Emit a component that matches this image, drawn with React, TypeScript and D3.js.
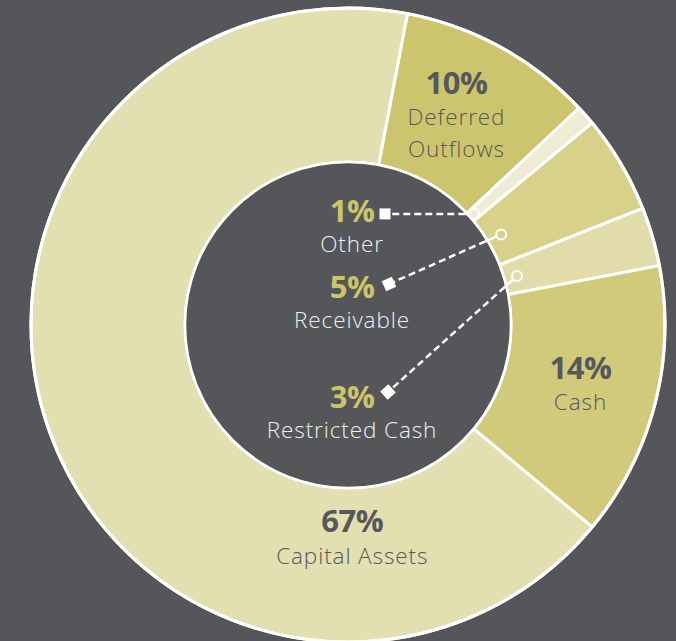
import React from "react";
import * as d3 from "d3";

// slices, clockwise from the top-right
const categories = ["Deferred Outflows", "Other", "Receivable", "Restricted Cash", "Cash", "Capital Assets"];
const values = [10, 1, 5, 3, 14, 67];
const colors = ["#cdc56e", "#efecd6", "#d8d18a", "#e1dcaa", "#d1ca7b", "#e2dfb1"];
// which slices get their label on the ring, and which get a callout inside
const ringLabels = [["Deferred", "Outflows"], null, null, null, ["Cash"], ["Capital Assets"]];
const innerLabels = [null, "Other", "Receivable", "Restricted Cash", null, null];

const W = 676;
const H = 641;
const cx = 348;
const cy = 325;
const outerR = 317;
const innerR = 163;
const startAngle = 0.03 * Math.PI * 2;

const BG = "#55565a";
const DARK = "#56585c";
const GOLD = "#cdc46a";
const LABEL_FONT = "'Open Sans', sans-serif";
const PCT_FONT = "'Open Sans', sans-serif";

// label anchors inside the hole: [x, y of percent baseline]
const innerSpots: Record<number, [number, number]> = { 1: [352, 222], 2: [352, 298], 3: [352, 408] };
// where the callout lines end (near the labels), and radius of the little ring marker
const calloutEnds: Record<number, [number, number | null]> = { 1: [385, null], 2: [389, 284], 3: [388, 392] };
const markerR: Record<number, number> = { 1: 168, 2: 178, 3: 176 };

const App: React.FC = () => {
  const pie = d3
    .pie<number>()
    .sort(null)
    .value((d) => d)
    .startAngle(startAngle)
    .endAngle(startAngle + Math.PI * 2);
  const arcs = pie(values);
  const arc = d3.arc<d3.PieArcDatum<number>>().innerRadius(innerR).outerRadius(outerR);

  const polar = (a: number, r: number): [number, number] => [Math.sin(a) * r, -Math.cos(a) * r];

  return (
    <svg
      width={W}
      height={H}
      style={{ position: "fixed", left: 0, top: 0, background: BG }}
      fontFamily={LABEL_FONT}
    >
      <rect width={W} height={H} fill={BG} />
      <g transform={`translate(${cx},${cy})`}>
        {arcs.map((a, i) => (
          <path key={categories[i]} d={arc(a)!} fill={colors[i]} stroke="#fff" strokeWidth={3} strokeLinejoin="round" />
        ))}
        <circle r={outerR} fill="none" stroke="#fff" strokeWidth={3} />
        <circle r={innerR} fill={BG} stroke="#fff" strokeWidth={2.5} />

        {arcs.map((a, i) => {
          const lines = ringLabels[i];
          if (!lines) return null;
          const mid = (a.startAngle + a.endAngle) / 2;
          // Capital Assets label sits at the bottom of the ring
          const [lx, ly] = i === 5 ? polar(Math.PI - 0.02, 213) : i === 0 ? polar(mid - 0.025, 236) : polar(mid, 240);
          const n = lines.length + 1;
          const base = (k: number) => ly + (k - (n - 1) / 2) * 31.5 + 10;
          return (
            <g key={"rl" + i} textAnchor="middle">
              <text x={lx} y={base(0)} fontFamily={PCT_FONT} fontWeight={700} fontSize={31} fill={DARK} letterSpacing={-0.5}>
                {values[i]}%
              </text>
              {lines.map((t, k) => (
                <text key={t} x={lx} y={base(k + 1)} fontSize={22.5} fontWeight={300} fill={DARK} letterSpacing={0.9}>
                  {t}
                </text>
              ))}
            </g>
          );
        })}

        {arcs.map((a, i) => {
          const name = innerLabels[i];
          if (!name) return null;
          const mid = (a.startAngle + a.endAngle) / 2;
          const [ax, ay] = polar(mid, markerR[i]);
          const [ex0, ey0] = calloutEnds[i];
          const ex = ex0 - cx;
          const ey = ey0 === null ? ay : ey0 - cy;
          const ang = Math.atan2(ey - ay, ex - ax);
          const ux = Math.cos(ang);
          const uy = Math.sin(ang);
          const [sx, sy] = [ax + ux * 5, ay + uy * 5];
          // distance from the marker to the inner circle, along the line
          const b = ax * ux + ay * uy;
          const c = ax * ax + ay * ay - innerR * innerR;
          const tIn = -b - Math.sqrt(Math.max(0, b * b - c));
          const [tx, ty] = innerSpots[i];
          return (
            <g key={"il" + i}>
              <line x1={sx} y1={sy} x2={ax + ux * (tIn + 2)} y2={ay + uy * (tIn + 2)} stroke="#fff" strokeWidth={2.5} />
              <line x1={ax + ux * (tIn + 2)} y1={ay + uy * (tIn + 2)} x2={ex} y2={ey} stroke="#fff" strokeWidth={2.5} strokeDasharray="7 4" />
              <circle cx={ax} cy={ay} r={5} fill="none" stroke="#fff" strokeWidth={2} />
              <rect
                x={-5.5}
                y={-5.5}
                width={11}
                height={11}
                fill="#fff"
                transform={`translate(${ex},${ey}) rotate(${(ang * 180) / Math.PI})`}
              />
              <g textAnchor="middle">
                <text x={tx - cx} y={ty - cy} fontFamily={PCT_FONT} fontWeight={700} fontSize={31} fill={GOLD} letterSpacing={-0.5}>
                  {values[i]}%
                </text>
                <text x={tx - cx} y={ty - cy + 30} fontSize={22.5} fontWeight={300} fill="#f0f0f0" letterSpacing={0.9}>
                  {name}
                </text>
              </g>
            </g>
          );
        })}
      </g>
    </svg>
  );
};

export default App;
